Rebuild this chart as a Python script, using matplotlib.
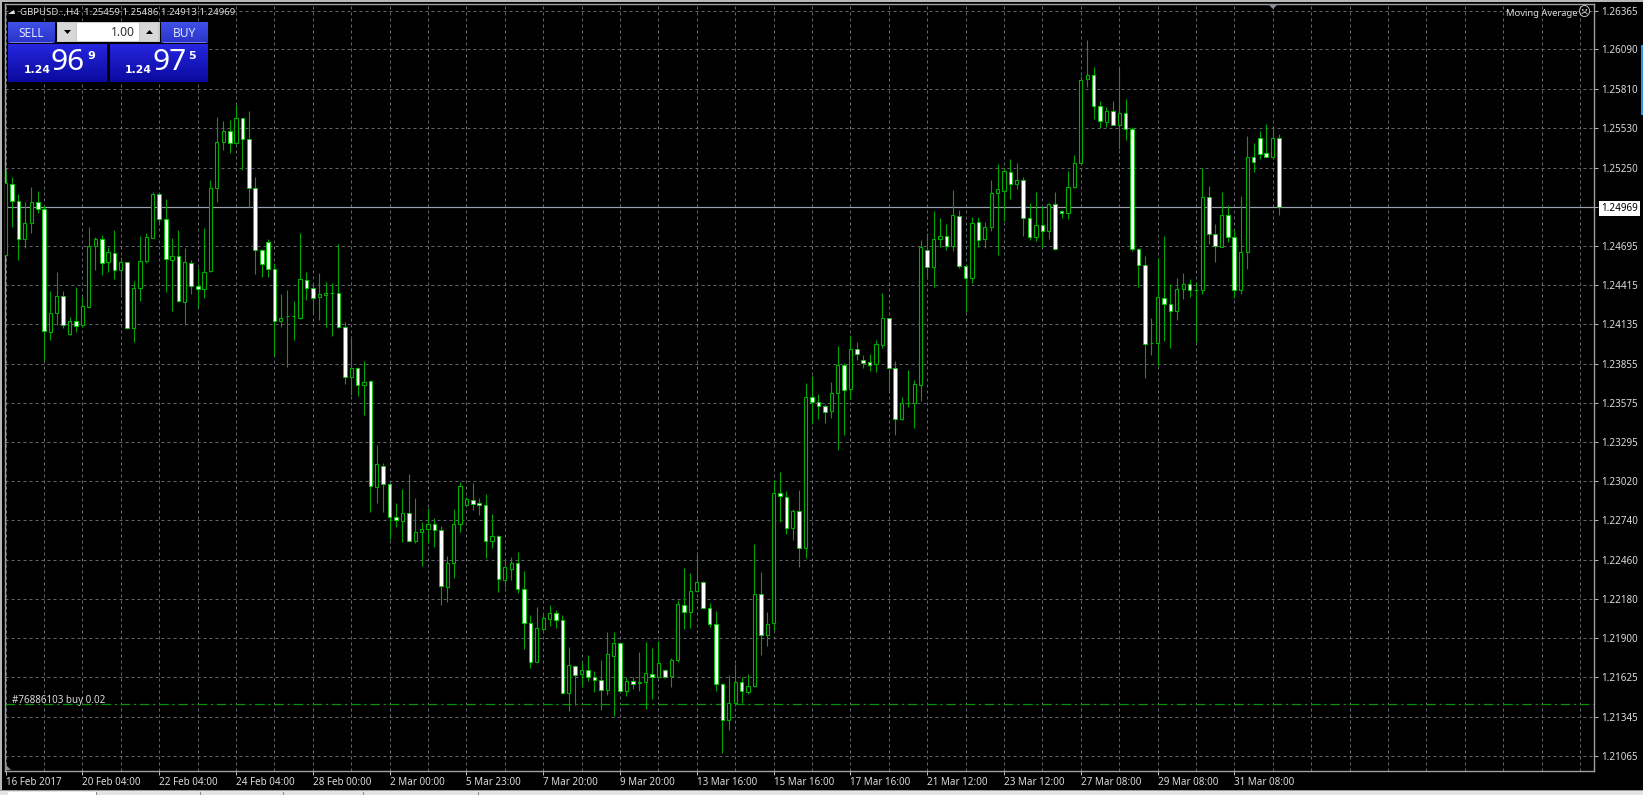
#python3
import numpy as np
import matplotlib
matplotlib.use("Agg")
import matplotlib.pyplot as plt
from matplotlib.patches import Rectangle, Polygon

plt.rcParams['font.family'] = ['Noto Sans', 'DejaVu Sans']

#H4 bars, in points (price * 100000)
opens = [
    124628,125130,125014,124744,124853,125005,124953,124082,124217,124334,
    124066,124161,124128,124260,124694,124741,124576,124644,124523,124576,
    124107,124391,124587,124751,125059,124884,124594,124623,124291,124569,
    124407,124384,124512,125106,125429,125509,125422,125600,125452,125106,
    124663,124718,124530,124161,124192,124192,124178,124450,124395,124327,
    124345,124354,124355,124116,123760,123826,123706,123730,122976,123130,
    123002,122767,122739,122791,122594,122658,122677,122715,122672,122265,
    122436,122715,122852,122888,122867,122852,122596,122628,122319,122397,
    122436,122251,122011,121736,121971,122042,122084,122028,121511,121703,
    121644,121679,121627,121606,121533,121774,121867,121528,121601,121580,
    121594,121646,121629,121675,121632,121746,122141,122089,122237,122305,
    122118,122004,121578,121317,121442,121594,121518,121561,122215,121923,
    122008,122933,122909,122687,122806,122544,123616,123583,123551,123516,
    123643,123842,123672,123956,123883,123864,123853,123988,124177,123826,
    123459,123574,123573,123705,124665,124541,124741,124762,124690,124906,
    124552,124463,124860,124739,124827,125066,125085,125220,125133,125162,
    124889,124754,124843,124796,124988,124941,124928,125111,125284,125881,
    125908,125685,125576,125652,125552,125639,125521,124668,124559,123999,
    124000,124320,124281,124230,124388,124419,124376,124377,125042,124775,
    124688,124912,124754,124377,124651,125327,125457,125355,125327,125459]
highs = [
    125227,125180,125061,125007,125109,125085,124983,124374,124505,124374,
    124185,124402,124331,124825,124754,124772,124687,124805,124616,124580,
    124443,124765,124782,125078,125071,125026,124749,124805,124675,124592,
    124533,124822,125161,125607,125578,125588,125694,125605,125654,125184,
    124670,124739,124569,124350,124379,124301,124782,124505,124414,124498,
    124434,124427,124704,124149,124052,123830,123874,123739,123277,123151,
    123005,122864,122962,123071,122898,122731,122831,122760,122701,122490,
    122822,123012,122905,123004,122898,122928,122784,122635,122473,122483,
    122518,122381,122068,122123,122080,122139,122104,122068,121836,121712,
    121736,121779,121672,121748,121949,121949,121870,121629,121629,121803,
    121874,121831,121883,121682,121760,122175,122400,122365,122518,122310,
    122151,122092,121582,121642,121718,121629,121649,122571,122372,122087,
    123028,123087,122946,122820,122955,123718,123764,123637,123568,123723,
    123980,123860,124058,124007,123918,123926,124021,124358,124180,123872,
    123621,123813,123737,124736,124781,124943,124889,124849,125090,124951,
    124560,124897,124896,124860,125161,125275,125246,125308,125284,125180,
    124995,125074,124976,125000,125078,124945,125227,125339,125900,126156,
    125962,125723,125678,125723,125967,125735,125540,124675,124618,124177,
    124604,124763,124422,124466,124498,124455,124434,125248,125118,124848,
    125078,124981,124810,125049,125476,125426,125509,125559,125529,125486]
lows = [
    124621,124825,124592,124675,124786,124928,123876,124023,124130,124107,
    124059,124082,124118,124256,124521,124486,124509,124455,124343,124102,
    124011,124303,124569,124746,124857,124363,124230,124296,124130,124350,
    124256,124324,124509,125007,125374,125355,125415,125232,124967,124493,
    124473,124473,123910,124114,123829,124023,124171,124308,124206,124166,
    124114,124052,124107,123711,123632,123625,123490,122803,122867,122798,
    122606,122696,122589,122589,122582,122419,122578,122554,122139,122156,
    122333,122660,122843,122815,122779,122476,122542,122234,122269,122315,
    122220,121826,121691,121732,121942,121990,121978,121508,121386,121428,
    121554,121601,121516,121388,121499,121350,121523,121494,121544,121523,
    121398,121469,121618,121618,121558,121736,121966,121974,122230,122115,
    121985,121523,121089,121250,121421,121440,121506,121554,121784,121843,
    121957,122725,122644,122599,122407,122469,123427,123459,123433,123470,
    123238,123346,123602,123880,123826,123804,123799,123966,123661,123346,
    123455,123548,123400,123589,124458,124398,124682,124663,124655,124538,
    124222,124425,124687,124675,124798,124628,124872,125024,125097,124766,
    124734,124729,124687,124739,124663,124893,124886,125105,125280,125824,
    125593,125529,125540,125550,125379,125445,124654,124398,123755,123919,
    123846,124016,123966,124166,124317,124331,124011,124353,124706,124580,
    124682,124722,124320,124350,124528,125220,125308,125322,125322,124913]
closes = [
    125138,125014,124741,124853,125002,124953,124087,124217,124334,124128,
    124158,124123,124265,124694,124741,124569,124651,124521,124576,124107,
    124391,124583,124758,125059,124884,124597,124623,124303,124576,124407,
    124384,124509,125106,125433,125511,125422,125600,125452,125106,124663,
    124564,124526,124161,124178,124196,124196,124455,124395,124320,124348,
    124360,124356,124114,123760,123826,123706,123727,122985,123140,123002,
    122763,122744,122791,122594,122660,122677,122717,122672,122272,122436,
    122717,122985,122891,122857,122852,122596,122628,122324,122407,122436,
    122251,122011,121732,121974,122049,122084,122028,121511,121710,121642,
    121679,121627,121608,121533,121789,121867,121528,121601,121578,121594,
    121651,121627,121729,121629,121750,122144,122089,122237,122305,122118,
    122004,121578,121317,121442,121594,121523,121561,122215,121926,122004,
    122932,122911,122687,122806,122544,123621,123580,123556,123513,123648,
    123842,123669,123956,123920,123861,123848,123994,124177,123826,123459,
    123575,123576,123713,124682,124541,124741,124765,124690,124911,124552,
    124463,124857,124734,124829,125066,125095,125225,125133,125163,124889,
    124758,124843,124798,124988,124668,124928,125111,125284,125874,125908,
    125685,125578,125652,125554,125639,125521,124673,124559,123995,124001,
    124327,124281,124230,124388,124419,124377,124378,125042,124775,124690,
    124912,124754,124379,124651,125327,125287,125348,125327,125459,124969]

#axis labels
date_labels = ['16 Feb 2017', '20 Feb 04:00', '22 Feb 04:00', '24 Feb 04:00', '28 Feb 00:00',
               '2 Mar 00:00', '5 Mar 23:00', '7 Mar 20:00', '9 Mar 20:00', '13 Mar 16:00',
               '15 Mar 16:00', '17 Mar 16:00', '21 Mar 12:00', '23 Mar 12:00', '27 Mar 08:00',
               '29 Mar 08:00', '31 Mar 08:00']
price_ticks = [1.26365, 1.26090, 1.25810, 1.25530, 1.25250, 1.24969, 1.24695, 1.24415,
               1.24135, 1.23855, 1.23575, 1.23295, 1.23020, 1.22740, 1.22460, 1.22180,
               1.21900, 1.21625, 1.21345, 1.21065]
bid = 1.24969
order_price = 1.21433

W, H = 1643, 795
PX = 72.0 / 100  # one pixel in points
GRID = '#62666d'
TEXT = '#dcdcdc'
FS = 7.1

o = np.array(opens) / 1e5
h = np.array(highs) / 1e5
l = np.array(lows) / 1e5
c = np.array(closes) / 1e5
x = np.arange(len(o))
up = c >= o
down = ~up

fig = plt.figure(figsize=(W / 100, H / 100), dpi=100, facecolor='black')
ax = fig.add_axes([5 / W, (H - 770.5) / H, 1589 / W, 766.5 / H], facecolor='black')
ax.set_xlim(-0.105, 248.2)
ax.set_ylim(1.20961, 1.26413)

#grid and ticks
label_bars = np.arange(len(date_labels)) * 12
grid_bars = [b for b in range(6, 247, 6) if b not in label_bars]
ax.set_xticks(label_bars)
ax.set_xticklabels(date_labels, ha='left')
ax.set_xticks(grid_bars, minor=True)
ax.yaxis.tick_right()
ax.set_yticks(price_ticks)
ax.set_yticklabels(['%.5f' % p for p in price_ticks])
ax.tick_params(axis='both', which='major', length=3, width=PX, color='#b4b4b4',
               labelcolor=TEXT, labelsize=FS, pad=2.0)
ax.tick_params(axis='x', which='minor', length=0)
ax.grid(True, which='both', color=GRID, lw=PX, linestyle=(0, (3, 3)), zorder=1)
ax.set_axisbelow(True)
for s in ax.spines.values():
    s.set_color('#a0a0a0')
    s.set_linewidth(1.0)

for lab, p in zip(ax.get_yticklabels(), price_ticks):
    if p == bid:
        lab.set_color('black')
        lab.set_bbox(dict(facecolor='white', edgecolor='none', pad=1.6))

#current price and open order
ax.axhline(bid, color='#98a0ac', lw=PX * 1.2, zorder=1.5)
ax.axhline(order_price, color='#009a00', lw=PX * 1.2, linestyle=(0, (8, 3, 2, 3)), zorder=1.5)

#candles
ax.vlines(x, l, h, color='#00a400', lw=PX * 1.1, zorder=2)
ax.bar(x[up], (c - o)[up], bottom=o[up], width=0.5, facecolor='black',
       edgecolor='#00ae00', linewidth=PX * 1.1, zorder=3)
ax.bar(x[down], (c - o)[down], bottom=o[down], width=0.58, facecolor='white',
       edgecolor='#00d000', linewidth=PX * 0.9, zorder=3)

#terminal chrome, in pixels
ui = fig.add_axes([0, 0, 1, 1], facecolor='none')
ui.set_axis_off()

def box(x0, y0, x1, y1, color, z=5):
    ui.add_patch(Rectangle((x0, y0), x1 - x0, y1 - y0, facecolor=color, edgecolor='none', zorder=z))

def grad(x0, y0, x1, y1, top, bottom, z=5):
    t = np.linspace(0, 1, 64).reshape(-1, 1, 1)
    a = np.array(matplotlib.colors.to_rgb(top)).reshape(1, 1, 3)
    b = np.array(matplotlib.colors.to_rgb(bottom)).reshape(1, 1, 3)
    ui.imshow(a * (1 - t) + b * t, extent=(x0, x1, y1, y0), aspect='auto', zorder=z)

#window edges
box(0, 0, W, 2, '#b8b8b8')
box(0, 0, 2, H, '#b8b8b8')
box(0, 790, W, 791, '#9a9a9a')
box(0, 791, W, H, '#e4e4e4')
box(8, 792, 96, H, '#ffffff')
for tx in [96, 200, 283, 363, 478]:
    box(tx, 792, tx + 1, H, '#8c8c8c')
box(1641, 45, W, 115, '#3d8fe0')

#header
ui.add_patch(Polygon([(8, 14), (14, 10), (15, 14)], closed=True, facecolor='#e0e0e0', zorder=6))
ui.text(20, 12, 'GBPUSD..,H4  1.25459 1.25486 1.24913 1.24969', color=TEXT, fontsize=6.95,
        va='center', ha='left', zorder=6)

#one click panel
box(7, 21, 209, 83, 'black', z=4)
grad(8, 22, 55, 43, '#3f50e8', '#2a33c8')
grad(161, 22, 208, 43, '#3f50e8', '#2a33c8')
grad(8, 44, 107, 82, '#2626e0', '#0a0a9e')
grad(110, 44, 208, 82, '#2626e0', '#0a0a9e')
box(10, 42, 53, 43, '#6f7ce0', z=6)
box(163, 42, 206, 43, '#6f7ce0', z=6)
box(57, 22, 160, 42, '#c8c8c8', z=5)
box(77, 23, 139, 41, 'white', z=6)
box(58, 23, 76, 41, '#d8d8d8', z=6)
box(140, 23, 158, 41, '#d8d8d8', z=6)
ui.add_patch(Polygon([(64, 30), (71, 30), (67.5, 34)], closed=True, facecolor='black', zorder=7))
ui.add_patch(Polygon([(146, 34), (153, 34), (149.5, 30)], closed=True, facecolor='black', zorder=7))
ui.text(31, 33.5, 'SELL', color='#dfe3ff', fontsize=8.6, ha='center', va='center', zorder=7)
ui.text(184, 33.5, 'BUY', color='#dfe3ff', fontsize=8.6, ha='center', va='center', zorder=7)
ui.text(135, 32.5, '1.00', color='#303030', fontsize=8.6, ha='right', va='center', zorder=7)
for px, big, small in [(24, '96', '9'), (125, '97', '5')]:
    ui.text(px, 70, '1.24', color='white', fontsize=7.8, fontweight='bold', family='DejaVu Sans',
            ha='left', va='center', zorder=7)
    ui.text(px + 27, 63, big, color='white', fontsize=21.5, ha='left', va='center', zorder=7)
    ui.text(px + 63, 56, small, color='white', fontsize=8.0, fontweight='bold', family='DejaVu Sans',
            ha='left', va='center', zorder=7)

#labels on the chart
ui.text(12, 700, '#76886103 buy 0.02', color=TEXT, fontsize=FS, ha='left', va='center', zorder=6)
ui.text(1506, 13, 'Moving Average', color=TEXT, fontsize=6.8, ha='left', va='center', zorder=6)
ui.text(1584.5, 13, '\u2639', color='#d8d8d8', fontsize=9, ha='center', va='center', zorder=6,
        family='DejaVu Sans')
ui.add_patch(Polygon([(1268, 4), (1278, 4), (1273, 9)], closed=True, facecolor='#8a9099', zorder=6))
ui.add_patch(Polygon([(5, 764), (5, 770), (11, 770)], closed=True, facecolor='#8a9099', zorder=6))

ui.set_xlim(0, W)
ui.set_ylim(H, 0)

fig.savefig('out.png', dpi=100, facecolor='black')
